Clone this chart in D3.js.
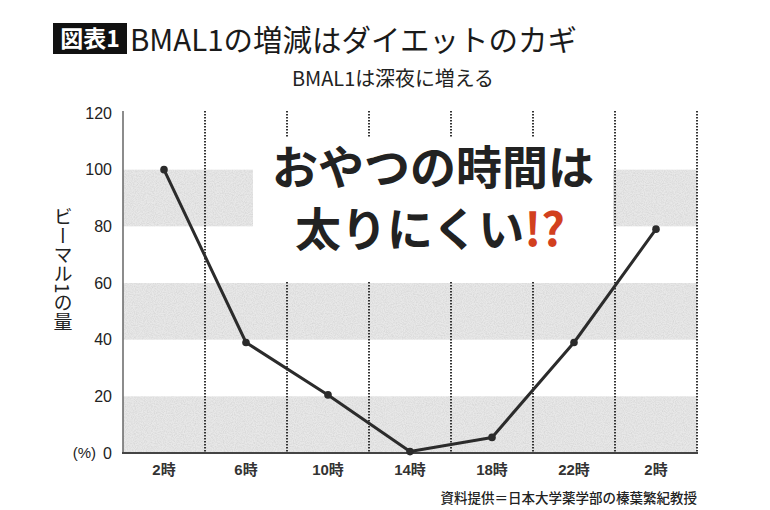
<!DOCTYPE html>
<html>
<head>
<meta charset="utf-8">
<script src="https://cdn.jsdelivr.net/npm/d3@7"></script>
<style>
  body { margin: 0; background: #fff; }
  svg { display: block; }
</style>
</head>
<body>
<script>
// data
const hours = ["2時", "6時", "10時", "14時", "18時", "22時", "2時"];
const bmal = [100, 39, 20.5, 0.5, 5.5, 39, 79];
const yTicks = [0, 20, 40, 60, 80, 100, 120];
const shadedBands = [[0, 20], [40, 60], [80, 100]];

const jp = "'Noto Sans CJK JP', 'Noto Sans', sans-serif";
const num = "'Liberation Sans', 'Noto Sans CJK JP', sans-serif";

function fitText(sel, width) {
  // scale the font so the line spans the wanted width
  const size = parseFloat(sel.style("font-size"));
  const w = sel.node().getComputedTextLength();
  sel.style("font-size", (size * width / w) + "px");
}

function drawTitles(svg) {
  // black label box + main title
  svg.append("rect")
    .attr("x", 53).attr("y", 23)
    .attr("width", 74).attr("height", 31)
    .attr("fill", "#111");
  svg.append("text")
    .attr("x", 90).attr("y", 47)
    .attr("text-anchor", "middle")
    .style("font-family", jp)
    .style("font-weight", 700)
    .style("font-size", "23px")
    .attr("fill", "#fff")
    .text("図表1");
  const title = svg.append("text")
    .attr("x", 130).attr("y", 51)
    .style("font-family", jp)
    .style("font-size", "28px")
    .attr("fill", "#1a1a1a")
    .text("BMAL1の増減はダイエットのカギ");
  fitText(title, 447);
  const sub = svg.append("text")
    .attr("x", 292).attr("y", 86)
    .style("font-family", jp)
    .style("font-size", "19px")
    .attr("fill", "#222")
    .text("BMAL1は深夜に増える");
  fitText(sub, 202);
}

function drawChart(svg) {
  const x = d3.scaleBand()
    .domain(d3.range(hours.length))
    .range([123, 697]);
  const y = d3.scaleLinear()
    .domain([0, 120])
    .range([453, 113]);

  // speckled grey texture for the shaded bands
  const defs = svg.append("defs");
  const f = defs.append("filter").attr("id", "grain")
    .attr("x", 0).attr("y", 0).attr("width", 1).attr("height", 1);
  f.append("feTurbulence")
    .attr("type", "fractalNoise")
    .attr("baseFrequency", 0.9)
    .attr("numOctaves", 2)
    .attr("seed", 3)
    .attr("result", "noise");
  f.append("feColorMatrix")
    .attr("in", "noise")
    .attr("type", "matrix")
    .attr("values", "0 0 0 0 0.6  0 0 0 0 0.6  0 0 0 0 0.6  0 0 0 1.1 -0.35")
    .attr("result", "dots");
  f.append("feComposite")
    .attr("in", "dots").attr("in2", "SourceGraphic")
    .attr("operator", "atop");

  svg.append("g")
    .selectAll("rect")
    .data(shadedBands)
    .enter()
    .append("rect")
    .attr("x", x.range()[0])
    .attr("y", d => y(d[1]))
    .attr("width", x.range()[1] - x.range()[0])
    .attr("height", d => y(d[0]) - y(d[1]))
    .attr("fill", "#e8e8e8")
    .attr("filter", "url(#grain)");

  // dotted column separators
  svg.append("g")
    .selectAll("line")
    .data(d3.range(hours.length))
    .enter()
    .append("line")
    .attr("x1", d => x(d) + x.bandwidth())
    .attr("x2", d => x(d) + x.bandwidth())
    .attr("y1", 111)
    .attr("y2", y(0))
    .attr("stroke", "#333")
    .attr("stroke-width", 2)
    .attr("stroke-dasharray", "1.4,1.6");

  // y axis
  const yAxis = d3.axisLeft(y).tickValues(yTicks).tickSize(0).tickPadding(11);
  const gY = svg.append("g")
    .attr("transform", "translate(123,0)")
    .call(yAxis);
  gY.select(".domain").remove();
  gY.selectAll("text")
    .style("font-family", num)
    .style("font-size", "16px")
    .attr("fill", "#222");
  svg.append("line")
    .attr("x1", 123).attr("x2", 123)
    .attr("y1", 111).attr("y2", y(0))
    .attr("stroke", "#666").attr("stroke-width", 1.5);

  svg.append("text")
    .attr("x", 96).attr("y", y(0) + 5)
    .attr("text-anchor", "end")
    .style("font-family", num)
    .style("font-size", "15px")
    .attr("fill", "#222")
    .text("(%)");

  // x axis
  const xAxis = d3.axisBottom(x).tickFormat(i => hours[i]).tickSize(0).tickPadding(11);
  const gX = svg.append("g")
    .attr("transform", "translate(0," + y(0) + ")")
    .call(xAxis);
  gX.select(".domain").remove();
  gX.selectAll("text")
    .style("font-family", num)
    .style("font-weight", 700)
    .style("font-size", "15px")
    .attr("fill", "#333");
  svg.append("line")
    .attr("x1", 122).attr("x2", 698)
    .attr("y1", y(0)).attr("y2", y(0))
    .attr("stroke", "#444").attr("stroke-width", 2);

  // y axis title, vertical
  svg.append("text")
    .attr("x", 63).attr("y", 207)
    .style("writing-mode", "vertical-rl")
    .style("font-family", jp)
    .style("font-size", "19px")
    .attr("fill", "#222")
    .text("ビーマル1の量");

  // the series
  const line = d3.line()
    .x((d, i) => x(i) + x.bandwidth() / 2)
    .y(d => y(d));
  svg.append("path")
    .datum(bmal)
    .attr("d", line)
    .attr("fill", "none")
    .attr("stroke", "#2b2b2b")
    .attr("stroke-width", 3)
    .attr("stroke-linejoin", "round");
  svg.append("g")
    .selectAll("circle")
    .data(bmal)
    .enter()
    .append("circle")
    .attr("cx", (d, i) => x(i) + x.bandwidth() / 2)
    .attr("cy", d => y(d))
    .attr("r", 3.8)
    .attr("fill", "#2b2b2b");
}

function drawOverlay(svg) {
  // white callout box over the chart
  svg.append("rect")
    .attr("x", 253).attr("y", 137)
    .attr("width", 360).attr("height", 144)
    .attr("fill", "#fff");
  svg.append("text")
    .attr("x", 433).attr("y", 184)
    .attr("text-anchor", "middle")
    .style("font-family", jp)
    .style("font-weight", 700)
    .style("font-size", "46px")
    .attr("fill", "#222")
    .text("おやつの時間は");
  const t = svg.append("text")
    .attr("x", 430).attr("y", 246)
    .attr("text-anchor", "middle")
    .style("font-family", jp)
    .style("font-weight", 700)
    .style("font-size", "46px")
    .attr("fill", "#222");
  t.append("tspan").text("太りにくい");
  t.append("tspan").attr("fill", "#d2401e").text("!?");
}

function drawSource(svg) {
  svg.append("text")
    .attr("x", 697).attr("y", 503)
    .attr("text-anchor", "end")
    .style("font-family", jp)
    .style("font-weight", 500)
    .style("font-size", "13.5px")
    .attr("fill", "#222")
    .text("資料提供＝日本大学薬学部の榛葉繁紀教授");
}

const svg = d3.select("body")
  .append("svg")
  .attr("width", 770)
  .attr("height", 510)
  .attr("style", "background: #fff");

drawTitles(svg);
drawChart(svg);
drawOverlay(svg);
drawSource(svg);
</script>
</body>
</html>
